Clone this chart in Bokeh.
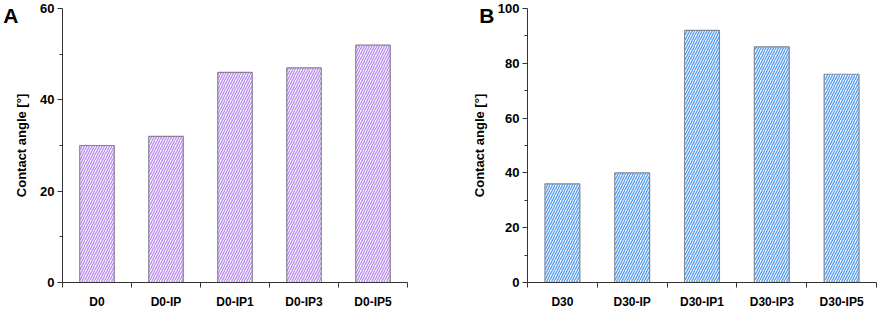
from bokeh.plotting import figure
from bokeh.layouts import row
from bokeh.models import FixedTicker, Range1d, LinearAxis, ColumnDataSource
from bokeh.embed import file_html
from bokeh.resources import INLINE

cats_a = ["D0", "D0-IP", "D0-IP1", "D0-IP3", "D0-IP5"]
vals_a = [30, 32, 46, 47, 52]
cats_b = ["D30", "D30-IP", "D30-IP1", "D30-IP3", "D30-IP5"]
vals_b = [36, 40, 92, 86, 76]
yticks_a = [0, 20, 40, 60]
yminor_a = [10, 30, 50]
yticks_b = [0, 20, 40, 60, 80, 100]
yminor_b = [10, 30, 50, 70, 90]

FONT = "Liberation Sans"
H = 312
TOP = 8
BOTTOM = 30


def panel(cats, vals, ymax, yticks, yminor, hatch_color, line_color, letter,
          width, left, frame_w, letter_standoff):
    n = len(cats)
    xs = list(range(1, n + 1))
    src = ColumnDataSource(dict(x=xs, top=vals, name=cats))
    p = figure(width=width, height=H, output_backend="svg",
               toolbar_location=None, x_range=Range1d(0.5, n + 0.5),
               y_range=Range1d(0, ymax), min_border_left=left,
               min_border_right=max(0, width - left - frame_w),
               min_border_top=TOP, min_border_bottom=BOTTOM)
    p.vbar(x="x", top="top", width=0.5, bottom=0, source=src,
           fill_color="white", hatch_pattern="/", hatch_color=hatch_color,
           hatch_scale=5, hatch_weight=1.4, line_color=line_color,
           line_width=1.2)
    p.grid.visible = False
    p.outline_line_color = None
    p.background_fill_color = "white"
    p.border_fill_color = "white"

    xa = p.xaxis[0]
    xa.ticker = FixedTicker(ticks=xs,
                            minor_ticks=[i + 0.5 for i in range(0, n + 1)])
    xa.major_label_overrides = {x: c for x, c in zip(xs, cats)}
    xa.major_tick_out = 0
    xa.major_tick_in = 0
    xa.minor_tick_out = 5
    xa.minor_tick_in = 0
    xa.major_label_standoff = 7
    xa.major_label_text_font = FONT
    xa.major_label_text_font_style = "bold"
    xa.major_label_text_font_size = "12px"
    xa.major_label_text_color = "black"
    xa.axis_line_color = "#333333"
    xa.minor_tick_line_color = "#333333"

    ya = p.yaxis[0]
    ya.ticker = FixedTicker(ticks=yticks, minor_ticks=yminor)
    ya.major_tick_out = 5
    ya.major_tick_in = 0
    ya.minor_tick_out = 3
    ya.minor_tick_in = 0
    ya.major_label_standoff = 3
    ya.major_label_text_font = FONT
    ya.major_label_text_font_style = "bold"
    ya.major_label_text_font_size = "13px"
    ya.major_label_text_color = "black"
    ya.axis_label = "Contact angle [°]"
    ya.axis_label_text_font = FONT
    ya.axis_label_text_font_style = "bold"
    ya.axis_label_text_font_size = "13px"
    ya.axis_label_text_color = "black"
    ya.axis_label_standoff = 8
    ya.axis_line_color = "#333333"
    ya.major_tick_line_color = "#333333"
    ya.minor_tick_line_color = "#333333"

    # panel letter, drawn as the single label of an extra, line-less axis
    la = LinearAxis(ticker=FixedTicker(ticks=[ymax], minor_ticks=[]),
                    major_label_overrides={ymax: letter},
                    axis_line_color=None, major_tick_line_color=None,
                    minor_tick_line_color=None, major_tick_out=0,
                    major_tick_in=0, minor_tick_out=0, minor_tick_in=0,
                    major_label_standoff=letter_standoff,
                    major_label_text_font=FONT,
                    major_label_text_font_style="bold",
                    major_label_text_font_size="21px",
                    major_label_text_color="black",
                    major_label_text_baseline="top")
    p.add_layout(la, "left")
    return p


pa = panel(cats_a, vals_a, 60, yticks_a, yminor_a, "#b98ff0", "#8a7f96",
           "A", 440, 59, 348, -7)
pb = panel(cats_b, vals_b, 100, yticks_b, yminor_b, "#5a9ef0", "#7f8a96",
           "B", 440, 87, 349, -26)

layout = row(pa, pb)
open("out.html", "w").write(file_html(layout, INLINE))
